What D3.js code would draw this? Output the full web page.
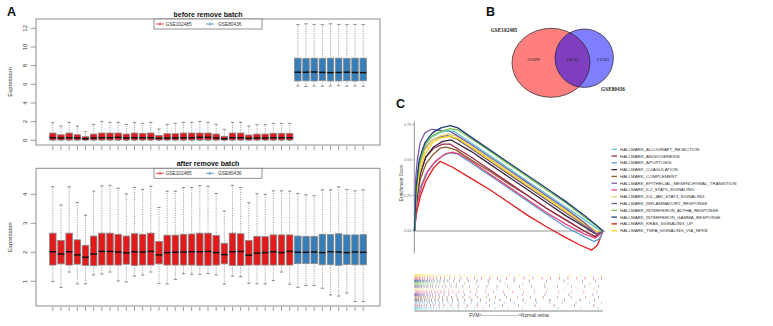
<!DOCTYPE html>
<html><head><meta charset="utf-8">
<script src="https://cdn.jsdelivr.net/npm/d3@7"></script>
<style>body{margin:0;background:#fff}svg{display:block}</style>
</head><body>
<script>
// ---------- Panel A: per-sample expression boxplots ----------
const datasets = ["GSE102485", "GSE80436"];
const sampleBatch = [
  0,0,0,0,0,0,0,0,0,0,0,0,0,0,0,0,0,0,0,0,0,0,0,0,0,0,0,0,0,0,
  1,1,1,1,1,1,1,1,1
];
const batchColors = ["#E31A1C", "#377EB8"];

// before batch removal
const beforeLo  = [0,0,0,0,0,0,0,0,0,0,0,0,0,0,0,0,0,0,0,0,0,0,0,0,0,0,0,0,0,0,
                   5.82,5.78,5.82,5.80,5.82,5.85,5.80,5.82,5.80];
const beforeQ1  = [0.04,0.04,0.04,0.04,0.04,0.04,0.04,0.04,0.04,0.04,0.04,0.04,0.04,0.04,0.04,
                   0.04,0.04,0.04,0.04,0.04,0.04,0.04,0.04,0.04,0.04,0.04,0.04,0.04,0.04,0.04,
                   6.36,6.38,6.36,6.40,6.36,6.36,6.38,6.36,6.38];
const beforeMed = [0.28,0.25,0.28,0.25,0.17,0.25,0.28,0.28,0.32,0.25,0.28,0.28,0.28,0.21,0.25,
                   0.25,0.28,0.28,0.32,0.32,0.25,0.17,0.28,0.28,0.21,0.25,0.25,0.28,0.28,0.28,
                   7.30,7.30,7.32,7.28,7.25,7.27,7.30,7.27,7.25];
const beforeQ3  = [0.78,0.60,0.78,0.60,0.39,0.67,0.78,0.78,0.78,0.67,0.78,0.75,0.78,0.53,0.71,
                   0.71,0.78,0.78,0.78,0.78,0.67,0.43,0.78,0.78,0.57,0.67,0.67,0.75,0.75,0.75,
                   8.80,8.78,8.80,8.78,8.80,8.80,8.78,8.80,8.80];
const beforeHi  = [1.89,1.53,1.93,1.53,0.92,1.71,2.03,1.93,1.93,1.71,1.89,1.82,1.93,1.21,1.71,
                   1.82,1.93,1.93,2.03,1.93,1.71,1.18,1.93,1.93,1.53,1.68,1.68,1.82,1.82,1.82,
                   12.40,12.48,12.42,12.40,12.48,12.42,12.40,12.42,12.40];

// after batch removal
const afterLo  = [0.99,0.79,1.32,0.91,0.91,1.22,1.25,1.32,1.01,0.98,1.18,1.22,1.32,0.93,0.91,
                  1.06,1.26,1.24,1.24,1.27,1.22,0.91,1.18,1.16,0.93,0.91,0.91,1.03,1.32,0.90,
                  0.79,0.86,0.85,0.76,0.53,0.49,0.59,0.30,0.30];
const afterQ1  = [1.56,1.60,1.56,1.59,1.55,1.54,1.56,1.56,1.56,1.59,1.55,1.56,1.56,1.60,1.56,
                  1.56,1.56,1.56,1.55,1.55,1.56,1.60,1.55,1.55,1.56,1.56,1.56,1.56,1.56,1.56,
                  1.61,1.61,1.61,1.57,1.57,1.55,1.58,1.57,1.57];
const afterMed = [2.02,1.94,2.02,1.91,1.83,1.94,2.03,2.03,2.01,1.98,2.02,2.01,2.03,1.91,1.99,
                  2.00,2.01,2.02,2.02,2.03,1.99,1.92,2.02,2.03,1.90,1.97,1.99,2.02,1.99,2.03,
                  2.00,2.00,2.01,1.99,2.02,2.01,1.99,2.01,2.00];
const afterQ3  = [2.66,2.41,2.66,2.43,2.24,2.56,2.66,2.66,2.62,2.56,2.64,2.62,2.66,2.37,2.59,
                  2.59,2.62,2.63,2.66,2.66,2.58,2.31,2.66,2.64,2.41,2.55,2.54,2.60,2.60,2.60,
                  2.56,2.55,2.55,2.62,2.61,2.64,2.60,2.60,2.61];
const afterHi  = [4.26,3.63,4.26,3.72,3.28,4.11,4.29,4.31,4.21,4.01,4.24,4.17,4.28,3.55,4.11,
                  4.11,4.23,4.23,4.30,4.28,4.03,3.42,4.31,4.23,3.71,4.02,4.00,4.12,4.12,4.11,
                  4.03,3.98,3.95,4.15,4.15,4.26,4.17,4.12,4.15];

const beforeTicks = [0, 2, 4, 6, 8, 10, 12];
const afterTicks = [1, 2, 3, 4];

// ---------- Panel B: Venn counts ----------
const vennSets = ["GSE102485", "GSE80436"];
const vennCounts = [31099, 14132, 11263]; // only A, shared, only B

// ---------- Panel C: GSEA running enrichment scores ----------
const hallmarkSets = [
  "HALLMARK_ALLOGRAFT_REJECTION", "HALLMARK_ANGIOGENESIS", "HALLMARK_APOPTOSIS",
  "HALLMARK_COAGULATION", "HALLMARK_COMPLEMENT", "HALLMARK_EPITHELIAL_MESENCHYMAL_TRANSITION",
  "HALLMARK_IL2_STAT5_SIGNALING", "HALLMARK_IL6_JAK_STAT3_SIGNALING", "HALLMARK_INFLAMMATORY_RESPONSE",
  "HALLMARK_INTERFERON_ALPHA_RESPONSE", "HALLMARK_INTERFERON_GAMMA_RESPONSE", "HALLMARK_KRAS_SIGNALING_UP",
  "HALLMARK_TNFA_SIGNALING_VIA_NFKB"
];
const hallmarkColors = ["#62C8DA", "#9E2A4E", "#5E9BD3", "#3A2342", "#8E5B2C", "#7D58A8",
  "#E6467B", "#E3D277", "#6C5B7E", "#77C64B", "#22407A", "#E41A1C", "#F6D21E"];

// running ES, [rank (per mille of ranked list), ES]
const esAllograft = [[0,0],[8,0.30],[20,0.45],[45,0.58],[80,0.65],[130,0.69],[180,0.705],[210,0.70],[300,0.62],[400,0.53],[500,0.44],[600,0.35],[700,0.26],[800,0.17],[900,0.08],[965,0.02],[1000,0]];
const esAngio = [[0,0],[10,0.20],[30,0.40],[60,0.52],[100,0.58],[150,0.61],[190,0.61],[300,0.52],[400,0.43],[500,0.34],[600,0.25],[700,0.16],[800,0.08],[900,0.0],[960,-0.04],[1000,0]];
const esApop = [[0,0],[10,0.16],[30,0.30],[60,0.40],[100,0.47],[150,0.53],[190,0.55],[230,0.54],[300,0.48],[400,0.39],[500,0.30],[600,0.21],[700,0.12],[800,0.03],[900,-0.04],[955,-0.075],[985,-0.05],[1000,0]];
const esCoag = [[0,0],[10,0.22],[30,0.40],[60,0.52],[100,0.59],[150,0.63],[195,0.64],[300,0.56],[400,0.47],[500,0.38],[600,0.29],[700,0.20],[800,0.11],[900,0.03],[960,-0.02],[1000,0]];
const esComplement = [[0,0],[10,0.20],[30,0.36],[60,0.47],[100,0.54],[140,0.585],[170,0.59],[220,0.57],[300,0.50],[400,0.42],[500,0.33],[600,0.25],[700,0.16],[800,0.08],[900,0.0],[960,-0.04],[1000,0]];
const esEMT = [[0,0],[5,0.35],[15,0.50],[30,0.62],[55,0.69],[90,0.715],[120,0.71],[190,0.70],[300,0.61],[400,0.52],[500,0.43],[600,0.34],[700,0.25],[800,0.16],[900,0.06],[965,-0.02],[1000,0]];
const esIL2 = [[0,0],[8,0.12],[20,0.22],[40,0.32],[70,0.42],[110,0.49],[160,0.54],[200,0.555],[240,0.54],[300,0.49],[400,0.40],[500,0.31],[600,0.22],[700,0.13],[800,0.05],[900,-0.02],[960,-0.05],[1000,0]];
const esIL6 = [[0,0],[8,0.25],[25,0.44],[55,0.57],[95,0.64],[140,0.67],[180,0.68],[220,0.67],[300,0.60],[400,0.51],[500,0.42],[600,0.33],[700,0.24],[800,0.15],[900,0.06],[965,0.0],[1000,0]];
const esInflam = [[0,0],[8,0.28],[25,0.46],[55,0.58],[95,0.64],[140,0.665],[175,0.67],[220,0.65],[300,0.58],[400,0.49],[500,0.40],[600,0.31],[700,0.22],[800,0.13],[900,0.04],[965,-0.02],[1000,0]];
const esIFNA = [[0,0],[8,0.28],[25,0.47],[55,0.60],[95,0.67],[140,0.70],[190,0.72],[230,0.71],[300,0.65],[400,0.56],[500,0.47],[600,0.38],[700,0.29],[800,0.20],[900,0.10],[970,0.03],[1000,0]];
const esIFNG = [[0,0],[8,0.30],[25,0.50],[55,0.62],[95,0.69],[140,0.725],[190,0.74],[230,0.725],[300,0.66],[400,0.57],[500,0.48],[600,0.39],[700,0.30],[800,0.21],[900,0.11],[975,0.03],[1000,0]];
const esKRAS = [[0,0],[10,0.12],[30,0.24],[60,0.35],[100,0.44],[136,0.49],[200,0.45],[300,0.37],[400,0.29],[500,0.20],[600,0.11],[700,0.03],[740,0.0],[800,-0.045],[880,-0.10],[940,-0.134],[970,-0.10],[1000,0]];
const esTNFA = [[0,0],[8,0.22],[25,0.40],[55,0.54],[95,0.62],[140,0.655],[190,0.665],[230,0.65],[300,0.59],[400,0.50],[500,0.41],[600,0.32],[700,0.23],[800,0.14],[900,0.05],[965,-0.01],[1000,0]];
const esCurves = [esAllograft, esAngio, esApop, esCoag, esComplement, esEMT, esIL2, esIL6,
  esInflam, esIFNA, esIFNG, esKRAS, esTNFA];

// gene hit positions in the ranked list (per mille)
const hitsAllograft = [1,3,5,7,11,14,17,22,27,31,36,43,51,58,66,78,89,100,117,133,151,177,204,233,271,318,366,428,494,573,666,764,882,974];
const hitsAngio = [3,8,17,27,36,51,64,84,103,130,157,193,231,280,332,397,467,551,639,741,849,951];
const hitsApop = [4,9,18,25,33,45,54,68,80,97,112,133,152,178,202,233,263,300,336,380,424,476,528,588,648,716,783,857,928,991];
const hitsCoag = [2,7,11,18,23,33,40,52,62,77,90,109,126,150,172,201,230,267,304,350,397,453,510,576,643,719,795,879,954];
const hitsComplement = [3,6,12,19,24,32,38,49,57,70,81,97,111,131,149,173,196,226,256,294,333,381,430,488,547,615,683,758,831,909,977];
const hitsEMT = [1,2,4,5,8,10,12,16,19,22,27,30,36,41,48,54,63,71,83,95,112,130,156,183,221,265,324,391,477,574,691,819,946];
const hitsIL2 = [4,10,14,22,28,38,45,56,65,79,90,106,120,140,158,182,204,233,261,297,332,376,420,471,521,579,636,700,763,832,898,967];
const hitsIL6 = [2,5,10,16,20,28,33,43,50,62,72,87,99,118,135,159,182,213,245,286,329,381,435,498,562,634,706,787,867,951];
const hitsInflam = [2,4,8,13,16,22,25,33,37,46,52,63,71,85,96,113,127,148,167,194,221,256,292,338,384,438,493,557,621,691,759,833,904,976];
const hitsIFNA = [1,4,6,10,13,17,20,26,29,35,40,48,55,66,73,86,98,117,134,159,185,223,267,326,394,481,574,691,814,931];
const hitsIFNG = [1,2,6,8,10,15,18,22,26,31,35,42,47,55,62,71,79,92,104,121,135,156,177,206,239,285,332,391,454,529,609,701,794,891,961];
const hitsKRAS = [3,9,14,24,30,43,54,69,83,101,117,138,159,187,213,246,279,319,355,399,440,488,532,581,628,677,721,769,814,861,904,949,992];
const hitsTNFA = [2,4,9,13,18,22,27,34,39,47,51,62,69,79,87,98,109,125,138,156,171,191,213,239,264,297,329,372,411,459,502,553,603,656,709,769,825,885,940,986];
const hitLists = [hitsAllograft, hitsAngio, hitsApop, hitsCoag, hitsComplement, hitsEMT, hitsIL2,
  hitsIL6, hitsInflam, hitsIFNA, hitsIFNG, hitsKRAS, hitsTNFA];

// ================= drawing =================
const W = 773, H = 326;
const svg = d3.select("body").append("svg").attr("width", W).attr("height", H)
  .style("font-family", "'Liberation Sans', Arial, sans-serif");

// panel letters
[["A", 7, 16], ["B", 486, 16], ["C", 396, 108]].forEach(([t, x, y]) =>
  svg.append("text").attr("x", x).attr("y", y).attr("font-size", 12.5)
    .attr("font-weight", "bold").attr("fill", "#111").text(t));

const xBox = d3.scaleLinear().domain([-1.06, 41.06]).range([36, 380]);
const boxHalf = 0.4 * (xBox(1) - xBox(0));

function boxPanel(opts) {
  const { top, bottom, domain, ticks, lo, q1, med, q3, hi, title } = opts;
  const y = d3.scaleLinear().domain(domain).range([bottom, top]);
  const g = svg.append("g");
  const idx = d3.range(sampleBatch.length);

  // whiskers (dashed) and caps
  idx.forEach(i => {
    const cx = xBox(i + 1);
    g.append("line").attr("x1", cx).attr("x2", cx).attr("y1", y(q3[i])).attr("y2", y(hi[i]))
      .attr("stroke", "#666").attr("stroke-width", 0.6).attr("stroke-dasharray", "1.2,1.2");
    g.append("line").attr("x1", cx).attr("x2", cx).attr("y1", y(q1[i])).attr("y2", y(lo[i]))
      .attr("stroke", "#666").attr("stroke-width", 0.6).attr("stroke-dasharray", "1.2,1.2");
    [hi[i], lo[i]].forEach(v => g.append("line")
      .attr("x1", cx - 1.6).attr("x2", cx + 1.6).attr("y1", y(v)).attr("y2", y(v))
      .attr("stroke", "#555").attr("stroke-width", 0.7));
  });
  // boxes
  g.selectAll("rect.bx").data(idx).join("rect").attr("class", "bx")
    .attr("x", i => xBox(i + 1) - boxHalf).attr("width", 2 * boxHalf)
    .attr("y", i => y(q3[i])).attr("height", i => y(q1[i]) - y(q3[i]))
    .attr("fill", i => batchColors[sampleBatch[i]]).attr("stroke", "#8a8a8a").attr("stroke-width", 0.8);
  // medians
  g.selectAll("line.md").data(idx).join("line").attr("class", "md")
    .attr("x1", i => xBox(i + 1) - boxHalf).attr("x2", i => xBox(i + 1) + boxHalf)
    .attr("y1", i => y(med[i])).attr("y2", i => y(med[i]))
    .attr("stroke", "#111").attr("stroke-width", 1.5);

  // frame
  g.append("rect").attr("x", 36).attr("y", top).attr("width", 344).attr("height", bottom - top)
    .attr("fill", "none").attr("stroke", "#8c8c8c").attr("stroke-width", 1);

  // y axis
  ticks.forEach(t => {
    g.append("line").attr("x1", 30.5).attr("x2", 36).attr("y1", y(t)).attr("y2", y(t))
      .attr("stroke", "#777").attr("stroke-width", 0.7);
    g.append("text").attr("transform", `translate(27,${y(t)}) rotate(-90)`)
      .attr("text-anchor", "middle").attr("font-size", 6).attr("fill", "#333").text(t);
  });
  g.append("text").attr("transform", `translate(12,${(top + bottom) / 2}) rotate(-90)`)
    .attr("text-anchor", "middle").attr("font-size", 6).attr("fill", "#333").text("Expression");

  // x ticks
  idx.forEach(i => g.append("line").attr("x1", xBox(i + 1)).attr("x2", xBox(i + 1))
    .attr("y1", bottom + 1).attr("y2", bottom + 5).attr("stroke", "#777").attr("stroke-width", 0.7));

  // title
  g.append("text").attr("x", 208).attr("y", top - 2.5).attr("text-anchor", "middle")
    .attr("font-size", 7).attr("font-weight", "bold").attr("fill", "#111").text(title);

  // legend
  const lg = g.append("g");
  lg.append("rect").attr("x", 154).attr("y", top).attr("width", 108).attr("height", 10)
    .attr("fill", "#fff").attr("stroke", "#777").attr("stroke-width", 0.8);
  [[156, 165.5], [206, 218]].forEach(([lx, tx], k) => {
    lg.append("line").attr("x1", lx).attr("x2", lx + 8).attr("y1", top + 5).attr("y2", top + 5)
      .attr("stroke", batchColors[k]).attr("stroke-width", 0.8);
    lg.append("line").attr("x1", lx + 4).attr("x2", lx + 4).attr("y1", top + 3.5).attr("y2", top + 6.5)
      .attr("stroke", batchColors[k]).attr("stroke-width", 0.8);
    lg.append("text").attr("x", tx).attr("y", top + 6.8).attr("font-size", 4.8)
      .attr("fill", "#333").text(datasets[k]);
  });
}

boxPanel({ top: 19, bottom: 145, domain: [-0.5, 13.0], ticks: beforeTicks,
  lo: beforeLo, q1: beforeQ1, med: beforeMed, q3: beforeQ3, hi: beforeHi, title: "before remove batch" });
boxPanel({ top: 168.3, bottom: 306, domain: [0.148, 4.897], ticks: afterTicks,
  lo: afterLo, q1: afterQ1, med: afterMed, q3: afterQ3, hi: afterHi, title: "after remove batch" });

// ---------- Venn ----------
const vg = svg.append("g").style("font-family", "'Liberation Serif', 'Times New Roman', serif");
const defs = svg.append("defs");
defs.append("clipPath").attr("id", "clipA")
  .append("ellipse").attr("cx", 551).attr("cy", 62.8).attr("rx", 39).attr("ry", 34.5);
vg.append("ellipse").attr("cx", 551).attr("cy", 62.8).attr("rx", 39).attr("ry", 34.5)
  .attr("fill", "#FF7E7E");
vg.append("circle").attr("cx", 584.2).attr("cy", 58.2).attr("r", 29.2).attr("fill", "#7F7FFF");
vg.append("circle").attr("cx", 584.2).attr("cy", 58.2).attr("r", 29.2).attr("fill", "#7F3EBE")
  .attr("clip-path", "url(#clipA)");
vg.append("ellipse").attr("cx", 551).attr("cy", 62.8).attr("rx", 39).attr("ry", 34.5)
  .attr("fill", "none").attr("stroke", "#222").attr("stroke-width", 0.7);
vg.append("circle").attr("cx", 584.2).attr("cy", 58.2).attr("r", 29.2)
  .attr("fill", "none").attr("stroke", "#222").attr("stroke-width", 0.7);
[[533.5, vennCounts[0]], [572.5, vennCounts[1]], [603, vennCounts[2]]].forEach(([x, v]) =>
  vg.append("text").attr("x", x).attr("y", 60.5).attr("text-anchor", "middle")
    .attr("font-size", 5).attr("fill", "#222").text(v));
vg.append("text").attr("x", 504).attr("y", 31.5).attr("text-anchor", "middle")
  .attr("font-size", 5.3).attr("font-weight", "bold").attr("fill", "#222").text(vennSets[0]);
vg.append("text").attr("x", 613).attr("y", 90.5).attr("text-anchor", "middle")
  .attr("font-size", 5.3).attr("font-weight", "bold").attr("fill", "#222").text(vennSets[1]);

// ---------- GSEA ----------
const xr = d3.scaleLinear().domain([0, 1000]).range([414.5, 603]);
const yes = d3.scaleLinear().domain([0, 0.75]).range([231, 124.3]);
const cg = svg.append("g");
cg.append("line").attr("x1", 414.3).attr("x2", 414.3).attr("y1", yes(0.77)).attr("y2", yes(-0.157))
  .attr("stroke", "#777").attr("stroke-width", 0.8);
[0, 0.25, 0.5, 0.75].forEach(t => {
  cg.append("line").attr("x1", 411.8).attr("x2", 414.3).attr("y1", yes(t)).attr("y2", yes(t))
    .attr("stroke", "#777").attr("stroke-width", 0.6);
  cg.append("text").attr("x", 411).attr("y", yes(t) + 1.2).attr("text-anchor", "end")
    .attr("font-size", 3.6).attr("fill", "#666").text(t.toFixed(2));
});
cg.append("text").attr("transform", `translate(402.5,${yes(0.34)}) rotate(-90)`)
  .attr("text-anchor", "middle").attr("font-size", 4.6).attr("fill", "#444").text("Enrichment Score");
cg.append("line").attr("x1", 414.3).attr("x2", 605).attr("y1", yes(0)).attr("y2", yes(0))
  .attr("stroke", "#777").attr("stroke-width", 0.8);

const line = d3.line().x(d => xr(d[0])).y(d => yes(d[1]));
// draw lower curves first so the top curves sit above
const drawOrder = [11, 2, 6, 4, 1, 3, 8, 7, 12, 5, 0, 9, 10];
drawOrder.forEach(k => cg.append("path").attr("d", line(esCurves[k])).attr("fill", "none")
  .attr("stroke", hallmarkColors[k]).attr("stroke-width", 1.3).attr("stroke-linejoin", "round"));

// hit strips: allograft at bottom, TNFA at top
const stripTop = 274, rowH = 2.75;
hitLists.forEach((hits, k) => {
  const row = 12 - k;
  const y0 = stripTop + row * rowH;
  cg.append("g").selectAll("line").data(hits).join("line")
    .attr("x1", d => xr(d)).attr("x2", d => xr(d)).attr("y1", y0).attr("y2", y0 + rowH)
    .attr("stroke", hallmarkColors[k]).attr("stroke-width", 0.6).attr("opacity", 0.75);
});
cg.append("line").attr("x1", 414.3).attr("x2", 603).attr("y1", 311).attr("y2", 311)
  .attr("stroke", "#888").attr("stroke-width", 1);
cg.append("text").attr("x", 509).attr("y", 317.2).attr("text-anchor", "middle")
  .attr("font-size", 4.6).attr("fill", "#333").text("FVM<------------------------>Normal retina");

// legend
hallmarkSets.forEach((name, k) => {
  const yy = 149.3 + k * 6.78;
  cg.append("line").attr("x1", 611.5).attr("x2", 617).attr("y1", yy).attr("y2", yy)
    .attr("stroke", hallmarkColors[k]).attr("stroke-width", 1.3);
  cg.append("text").attr("x", 620).attr("y", yy + 1.5).attr("font-size", 4.4)
    .attr("fill", "#333").text(name);
});
</script>
</body></html>
